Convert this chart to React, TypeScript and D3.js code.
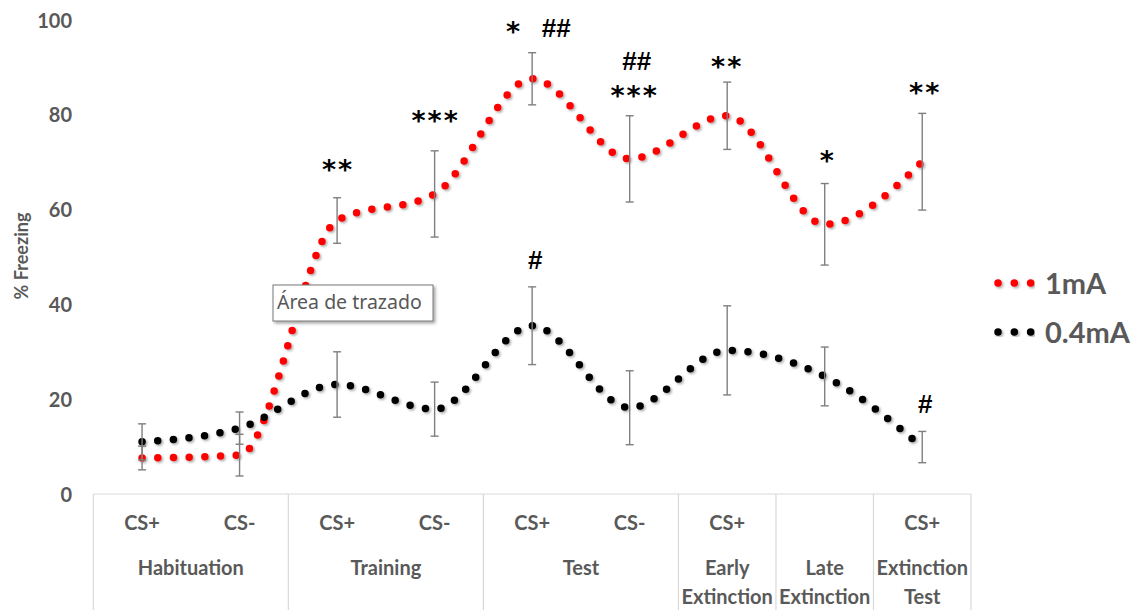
import React from "react";
import * as d3 from "d3";

const W = 1138;
const H = 610;

// sub-categories (bottom axis, first row)
const categories = ["CS+", "CS-", "CS+", "CS-", "CS+", "CS-", "CS+", "", "CS+"];
// groups (second row), number of categories in each
const groupLabels = [["Habituation"], ["Training"], ["Test"], ["Early", "Extinction"], ["Late", "Extinction"], ["Extinction", "Test"]];
const groupSpans = [2, 2, 2, 1, 1, 1];

// % Freezing, 1mA group
const red = [7.6, 8.2, 57.7, 63.3, 87.6, 70.7, 79.8, 56.9, 70.1];
const redErr = [2.5, 4.4, 4.8, 9.1, 5.5, 9.1, 7.1, 8.6, 10.2];
// % Freezing, 0.4mA group
const black = [11.0, 13.9, 23.1, 17.9, 35.5, 18.2, 30.3, 24.8, 9.9];
const blackErr = [3.8, 3.4, 6.9, 5.7, 8.2, 7.8, 9.4, 6.2, 3.3];

const yTicks = [0, 20, 40, 60, 80, 100];

// significance marks: category index, text, level (% units), nudge
const marks = [
  { i: 2, t: "**", v: 69.4, dx: 1 },
  { i: 3, t: "***", v: 79.7, dx: 1 },
  { i: 4, t: "*", v: 98.6, dx: -18 },
  { i: 4, t: "##", v: 98.4, dx: 24 },
  { i: 5, t: "##", v: 91.4, dx: 7 },
  { i: 5, t: "***", v: 85.0, dx: 5 },
  { i: 6, t: "**", v: 91.2, dx: 0 },
  { i: 7, t: "*", v: 71.3, dx: 3 },
  { i: 8, t: "**", v: 85.7, dx: 3 },
  { i: 4, t: "#", v: 49.4, dx: 3 },
  { i: 8, t: "#", v: 19.0, dx: 3 },
];

const FONT = "Lato, 'Open Sans', sans-serif";
const GREY = "#595959";

export default function App() {
  const x = d3.scaleBand<number>().domain(d3.range(categories.length)).range([93.3, 971]).padding(0);
  const cx = (i: number) => (x(i) as number) + x.bandwidth() / 2;
  const y = d3.scaleLinear().domain([0, 100]).range([494, 20]);

  const line = d3
    .line<number>()
    .x((_, i) => cx(i))
    .y((d) => y(d))
    .curve(d3.curveMonotoneX);

  const groupStarts: number[] = [];
  let acc = 0;
  groupSpans.forEach((s) => {
    groupStarts.push(acc);
    acc += s;
  });
  const boundaries = [...groupStarts, categories.length];

  const dots = { strokeDasharray: "0 15.7", strokeLinecap: "round" as const, strokeWidth: 7.5, fill: "none" };

  const errBars = (vals: number[], errs: number[], key: string) =>
    vals.map((v, i) => {
      const xc = cx(i);
      const y1 = y(v + errs[i]);
      const y2 = y(v - errs[i]);
      return (
        <g key={key + i} stroke="#7f7f7f" strokeWidth={1.4}>
          <line x1={xc} x2={xc} y1={y1} y2={y2} />
          <line x1={xc - 4} x2={xc + 4} y1={y1} y2={y1} />
          <line x1={xc - 4} x2={xc + 4} y1={y2} y2={y2} />
        </g>
      );
    });

  return (
    <svg width={W} height={H} style={{ position: "absolute", left: 0, top: 0, background: "#fff" }}>
      <defs>
        <filter id="sh" x="-10%" y="-10%" width="120%" height="120%">
          <feDropShadow dx="1.5" dy="1.5" stdDeviation="1.3" floodColor="#000" floodOpacity="0.35" />
        </filter>
        <filter id="boxsh" x="-10%" y="-20%" width="130%" height="150%">
          <feDropShadow dx="2" dy="2" stdDeviation="1.5" floodColor="#000" floodOpacity="0.35" />
        </filter>
      </defs>

      {/* category table */}
      <g stroke="#d9d9d9" strokeWidth={1.2}>
        <line x1={x(0)} x2={(x(categories.length - 1) as number) + x.bandwidth()} y1={y(0)} y2={y(0)} />
        {boundaries.map((b, k) => {
          const xx = b < categories.length ? (x(b) as number) : (x(categories.length - 1) as number) + x.bandwidth();
          return <line key={k} x1={xx} x2={xx} y1={y(0)} y2={H} />;
        })}
      </g>

      {/* category labels */}
      <g fontFamily={FONT} fontWeight="bold" fontSize={20} fill={GREY} textAnchor="middle">
        {categories.map((c, i) => (
          <text key={i} x={cx(i)} y={530}>
            {c}
          </text>
        ))}
        {groupLabels.map((lines, g) => {
          const s = groupStarts[g];
          const e = s + groupSpans[g] - 1;
          const mid = (cx(s) + cx(e)) / 2;
          return lines.map((ln, k) => (
            <text key={g + "-" + k} x={mid} y={575 + k * 29}>
              {ln}
            </text>
          ));
        })}
      </g>

      {/* y axis ticks */}
      <g fontFamily={FONT} fontWeight="bold" fontSize={20} fill={GREY} textAnchor="end">
        {yTicks.map((t) => (
          <text key={t} x={72} y={y(t) + 7.6}>
            {t}
          </text>
        ))}
      </g>
      <text
        transform="translate(28,256) rotate(-90)"
        fontFamily={FONT}
        fontWeight="bold"
        fontSize={18}
        fill={GREY}
        textAnchor="middle"
      >
        % Freezing
      </text>

      {/* series */}
      <g filter="url(#sh)">
        <path d={line(red) as string} stroke="#ff0000" {...dots} />
        <path d={line(black) as string} stroke="#000000" {...dots} />
      </g>

      {errBars(red, redErr, "r")}
      {errBars(black, blackErr, "b")}

      {/* significance marks */}
      {marks.map((m, k) =>
        m.t.startsWith("#") ? (
          <text
            key={k}
            x={cx(m.i) + m.dx}
            y={y(m.v) + 9}
            fontFamily="'Liberation Sans', Arial, sans-serif"
            fontWeight="bold"
            fontSize={26}
            textAnchor="middle"
            fill="#000"
          >
            {m.t}
          </text>
        ) : (
          <text
            key={k}
            x={cx(m.i) + m.dx}
            y={y(m.v) + 14}
            fontFamily="'DejaVu Sans', sans-serif"
            fontWeight="bold"
            fontSize={27}
            letterSpacing={2}
            textAnchor="middle"
            fill="#000"
          >
            {m.t}
          </text>
        )
      )}

      {/* legend */}
      <g filter="url(#sh)">
        <path d="M998,283 L1031,283" stroke="#ff0000" {...dots} strokeDasharray="0 16.3" />
        <path d="M998,332 L1031,332" stroke="#000000" {...dots} strokeDasharray="0 16.3" />
      </g>
      <g fontFamily={FONT} fontWeight="bold" fontSize={29} fill={GREY}>
        <text x={1045} y={293.5}>
          1mA
        </text>
        <text x={1045} y={342.5}>
          0.4mA
        </text>
      </g>

      {/* hover tooltip */}
      <g>
        <rect x={273} y={285} width={160} height={36} fill="#fff" stroke="#767676" strokeWidth={1} filter="url(#boxsh)" />
        <text x={277} y={309} fontFamily="'Noto Sans', 'Open Sans', sans-serif" fontSize={19.5} fill="#575757">
          Área de trazado
        </text>
      </g>
    </svg>
  );
}
